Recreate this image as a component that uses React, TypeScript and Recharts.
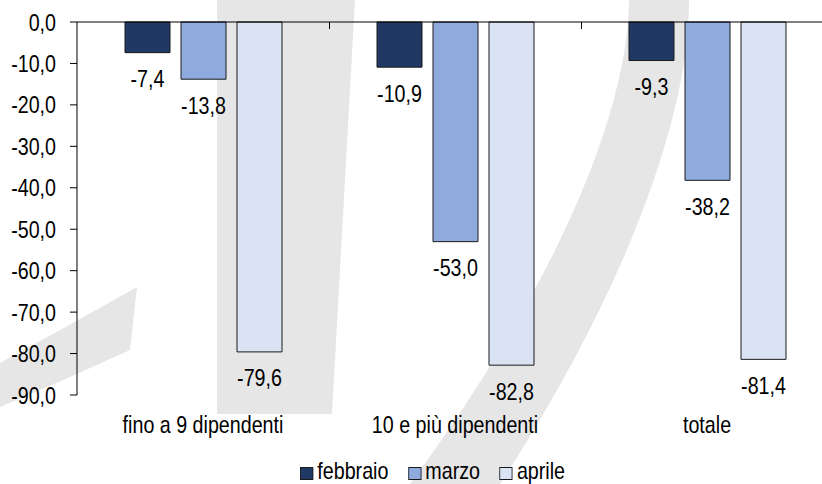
import React from "react"
import { BarChart, Bar, XAxis, YAxis, LabelList, Legend, ReferenceLine } from "recharts"

// dati (variazioni %)
const categorie = ["fino a 9 dipendenti", "10 e più dipendenti", "totale"]
const febbraio = [-7.4, -10.9, -9.3]
const marzo = [-13.8, -53.0, -38.2]
const aprile = [-79.6, -82.8, -81.4]
const yTicks = [-90, -80, -70, -60, -50, -40, -30, -20, -10, 0]

const serie = [
  { key: "febbraio", color: "#203864" },
  { key: "marzo", color: "#8FAADC" },
  { key: "aprile", color: "#DAE3F3" },
]

const data = categorie.map((name, i) => ({
  name,
  febbraio: febbraio[i],
  marzo: marzo[i],
  aprile: aprile[i],
}))

const FONT = "'Liberation Sans', Arial, sans-serif"
const FS = 24
const NARROW = 0.82 // font "narrow": Arial compresso in orizzontale
const TOP = 22 // margine superiore = linea dello zero

const fmt = (v: number) => v.toFixed(1).replace(".", ",")

// testo compresso in orizzontale attorno al punto di ancoraggio
const NarrowText = ({ x, y, anchor, dy, children }: any) => (
  <g transform={`translate(${x},${y})`}>
    <text
      transform={`scale(${NARROW},1)`}
      textAnchor={anchor}
      dy={dy}
      fontFamily={FONT}
      fontSize={FS}
      fill="#000"
    >
      {children}
    </text>
  </g>
)

const YTick = (props: any) => (
  <NarrowText x={props.x} y={props.y} anchor="end" dy="0.355em">
    {fmt(Number(props.payload.value))}
  </NarrowText>
)

// etichetta di categoria + tacca sul bordo sinistro della categoria (sulla linea dello zero)
const XTick = (props: any) => {
  const band = props.width / (props.visibleTicksCount || categorie.length)
  const bx = Math.round(props.x - band / 2) + 0.5
  return (
    <g>
      {props.index > 0 && <line x1={bx} x2={bx} y1={TOP} y2={TOP + 7} stroke="#000" strokeWidth={1} />}
      <NarrowText x={props.x} y={props.y} anchor="middle" dy="0.71em">
        {props.payload.value}
      </NarrowText>
    </g>
  )
}

// etichetta sotto la barra (valori negativi)
const BarLabel = (props: any) => {
  const vb = props.viewBox ?? props
  const { x, y, width, height } = vb
  const bottom = Math.max(y, y + height)
  return (
    <NarrowText x={x + width / 2} y={bottom + 26} anchor="middle" dy="0.355em">
      {fmt(Number(props.value))}
    </NarrowText>
  )
}

const LegendContent = () => (
  <div style={{ height: 30, display: "flex", justifyContent: "center" }}>
    <div
      style={{
        display: "flex",
        alignItems: "flex-end",
        height: 30,
        fontFamily: FONT,
        fontSize: FS,
        lineHeight: "26px",
        color: "#000",
        transform: `scaleX(${NARROW})`,
        transformOrigin: "center",
      }}
    >
      {serie.map((s, i) => (
        <div key={s.key} style={{ display: "flex", alignItems: "flex-end", marginLeft: i === 0 ? 0 : 24 }}>
          <span
            style={{
              display: "inline-block",
              width: 14,
              height: 11,
              background: s.color,
              border: "1px solid #1a1a1a",
              marginRight: 5,
              marginBottom: 4,
            }}
          />
          <span>{s.key}</span>
        </div>
      ))}
    </div>
  </div>
)

// logo in filigrana sullo sfondo
const Filigrana = () => (
  <svg width={822} height={484} style={{ position: "absolute", left: 0, top: 0 }}>
    <g fill="#e6e6e6">
      <path d="M217,0 L355,0 L332,414 L217,414 Z" />
      <path d="M137,287 Q70,325 0,363 L0,407 Q65,380 130,350 Z" />
      <path d="M629,0 C628,110 560,280 410,484 L500,484 C620,300 690,120 689,0 Z" />
    </g>
  </svg>
)

export default function App() {
  return (
    <div style={{ position: "absolute", left: 0, top: 0, width: 822, height: 484, overflow: "hidden", background: "#fff" }}>
      <Filigrana />
      <div style={{ position: "absolute", left: 0, top: 0 }}>
        <BarChart
          width={860}
          height={484}
          data={data}
          margin={{ top: TOP, right: 27, bottom: 0, left: 0 }}
          barSize={45}
          barGap={11}
        >
          <XAxis
            dataKey="name"
            axisLine={false}
            tickLine={false}
            tickSize={0}
            tickMargin={21}
            height={59}
            interval={0}
            tick={<XTick />}
          />
          <YAxis
            domain={[-90, 0]}
            ticks={yTicks}
            interval={0}
            width={77}
            tickSize={7}
            tickMargin={14}
            axisLine={{ stroke: "#000" }}
            tickLine={{ stroke: "#000" }}
            tick={<YTick />}
          />
          <Legend verticalAlign="bottom" height={30} content={<LegendContent />} wrapperStyle={{ left: 0, width: 865 }} />
          {serie.map((s) => (
            <Bar key={s.key} dataKey={s.key} fill={s.color} stroke="#1a1a1a" strokeWidth={1} isAnimationActive={false}>
              <LabelList dataKey={s.key} content={<BarLabel />} />
            </Bar>
          ))}
          <ReferenceLine y={0} stroke="#000" strokeWidth={1} />
        </BarChart>
      </div>
    </div>
  )
}
